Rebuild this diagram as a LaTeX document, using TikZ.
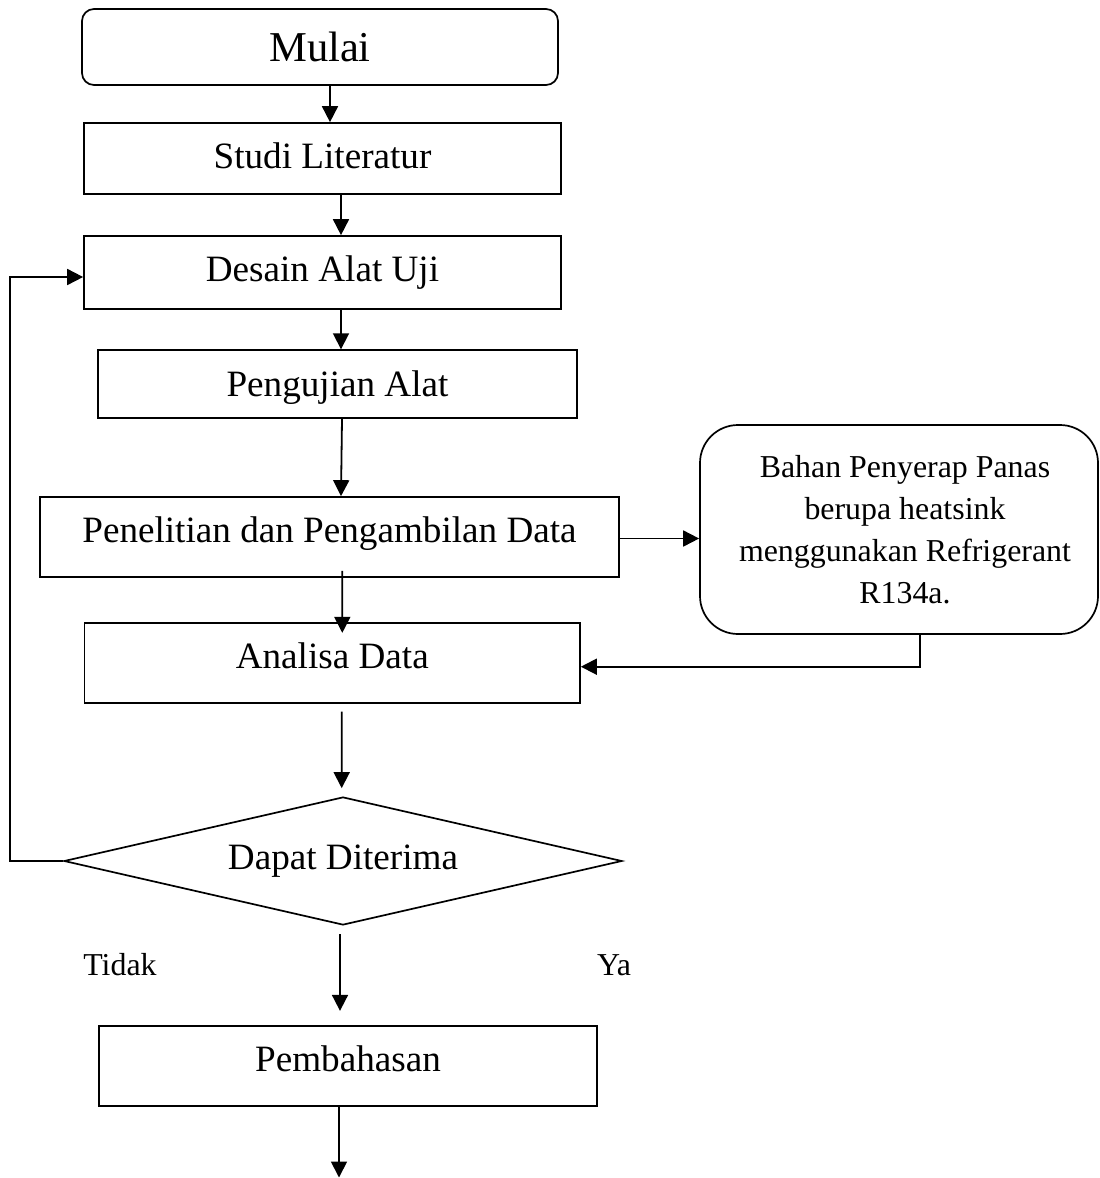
\documentclass[tikz,border=0pt]{standalone}
\usepackage{fontspec}
\setmainfont{Liberation Serif}
\usetikzlibrary{arrows.meta,shapes.geometric}
\begin{document}
\begin{tikzpicture}[x=1bp,y=-1bp,
  box/.style={draw, line width=1.7bp, inner sep=0pt, text depth=0pt,
    font=\fontsize{37.3}{44}\selectfont},
  arr/.style={line width=1.8bp, -{Triangle[length=16bp,width=16bp]}},
  lbl/.style={font=\fontsize{32}{38}\selectfont, anchor=base, inner sep=0pt}]
\useasboundingbox (0,0) rectangle (1100,1178);
\fill[white] (0,0) rectangle (1100,1178);

% nodes
\node[box, rounded corners=12bp, minimum width=476bp, minimum height=76bp,
  text height=29.4bp, font=\fontsize{42.7}{50}\selectfont] (mulai) at (320,47) {Mulai};
\node[box, minimum width=477bp, minimum height=71bp, text height=19.6bp] (studi) at (322.5,158.5) {Studi Literatur};
\node[box, minimum width=477bp, minimum height=73bp, text height=18.4bp] (desain) at (322.5,272.5) {Desain Alat Uji};
\node[box, minimum width=479bp, minimum height=67.7bp, text height=25.4bp] (penguj) at (337.5,384) {Pengujian Alat};
\node[box, minimum width=579bp, minimum height=80bp, text height=11.4bp] (penel) at (329.5,537) {Penelitian dan Pengambilan Data};
\node[box, minimum width=495.4bp, minimum height=80.6bp, text height=10.6bp] (analisa) at (332.3,663) {Analisa Data};
\node[draw, line width=1.7bp, rounded corners=38bp, minimum width=398bp, minimum height=209bp,
  inner sep=0pt, align=center, font=\fontsize{32}{42}\selectfont] (bahan) at (899,529.5)
  {\hspace*{12bp}Bahan Penyerap Panas\\\hspace*{12bp}berupa heatsink\\\hspace*{12bp}menggunakan Refrigerant\\\hspace*{12bp}R134a.};
\node[draw, diamond, aspect=4, line width=1.7bp, inner sep=0pt, minimum width=558bp, minimum height=128bp,
  text height=16.6bp, text depth=0pt, font=\fontsize{37.3}{44}\selectfont] (dia) at (343,861) {Dapat Diterima};
\node[box, minimum width=498bp, minimum height=80bp, text height=11.4bp] (pemb) at (348,1066) {Pembahasan};
\node[lbl] (tidak) at (120,975) {Tidak};
\node[lbl] (ya) at (614,975) {Ya};
\coordinate (fb) at (10,861);
\coordinate (akhir) at (339,1177.5);

% connectors
\draw[arr] ([xshift=10bp]mulai.south) -- ([xshift=10bp]mulai.south |- studi.north);
\draw[arr] ([xshift=18.5bp]studi.south) -- ([xshift=18.5bp]studi.south |- desain.north);
\draw[arr] ([xshift=18.5bp]desain.south) -- ([xshift=18.5bp]desain.south |- penguj.north);
\draw[arr] ([xshift=4.5bp]penguj.south) -- ([xshift=11.5bp]penel.north);
\draw[arr] ([xshift=12.8bp,yshift=7bp]penel.south) -- ([xshift=10bp,yshift=-11bp]analisa.north);
\draw[arr] ([yshift=-1.5bp]penel.east) -- ([yshift=-1.5bp]penel.east -| bahan.west);
\draw[arr] ([xshift=21bp]bahan.south) |- ([yshift=-3.7bp]analisa.east);
\draw[arr] ([xshift=9.4bp,yshift=-7.4bp]analisa.south) -- ([xshift=-1.3bp,yshift=8bp]dia.north);
\draw[arr] ([xshift=-3bp,yshift=-8.3bp]dia.south) -- ([xshift=-8bp,yshift=14.3bp]pemb.north);
\draw[arr] ([xshift=-9bp]pemb.south) -- (akhir);
\draw[arr] (dia.west) -- (fb) |- ([yshift=-4.5bp]desain.west);
\end{tikzpicture}
\end{document}
